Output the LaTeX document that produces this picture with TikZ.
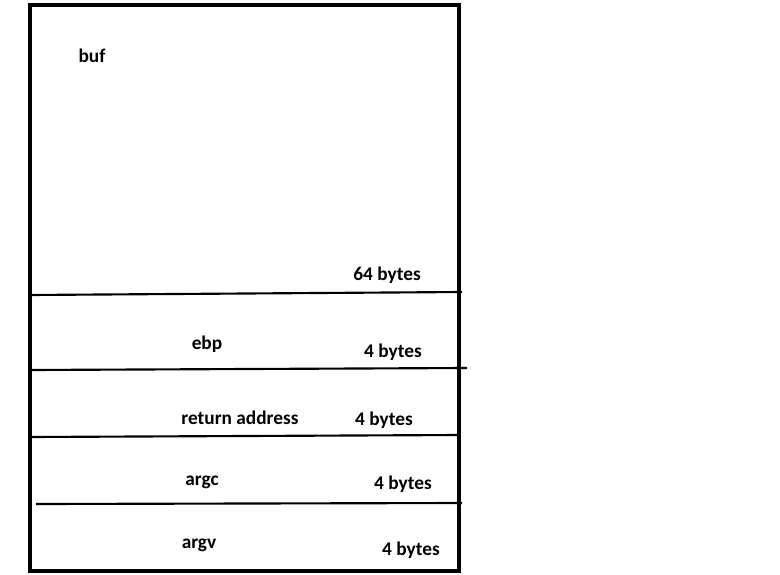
\documentclass[tikz,border=0pt]{standalone}
\usepackage{fontspec}
\setmainfont{Carlito}
\usepackage{tikz}
\usetikzlibrary{calc}

\begin{document}
\begin{tikzpicture}[x=0.75pt, y=-0.75pt]
			\tikzstyle{frame}=[line width=2.4pt]
			\tikzstyle{divider}=[line width=1.6pt]
			\tikzstyle{field}=[font=\bfseries\fontsize{14.5}{16}\selectfont, inner sep=0pt]
			\def\L{30};
			\def\R{459};
			\def\T{5};
			\def\B{571};

			\useasboundingbox (0,0) rectangle (780,574);

			\begin{scope}
				\draw [frame] (\L,\T) rectangle (\R,\B);
			\end{scope}

			\begin{scope}
				\draw [divider] (\L,295) -- (462,292);
				\draw [divider] (\L,370) -- (467,368);
				\draw [divider] (\L,437) -- (460,435);
				\draw [divider] (36,504) -- (462,503);
			\end{scope}

			\begin{scope}
				\node [field] (buf) at (92,56) {buf};
				\node [field] (bufsize) at (387,275) {64 bytes};
				\node [field] (ebp) at (207,344) {ebp};
				\node [field] (ebpsize) at (393,352) {4 bytes};
				\node [field] (ret) at (240,418) {return address};
				\node [field] (retsize) at (384,420) {4 bytes};
				\node [field] (argc) at (202,482) {argc};
				\node [field] (argcsize) at (403,484) {4 bytes};
				\node [field] (argv) at (199,545) {argv};
				\node [field] (argvsize) at (411,550) {4 bytes};
			\end{scope}
		\end{tikzpicture}
\end{document}
